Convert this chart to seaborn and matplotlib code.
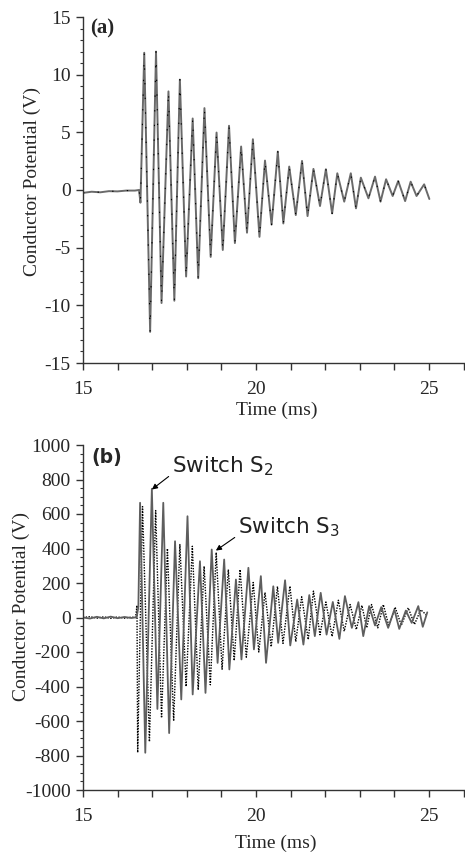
import numpy as np
import pandas as pd
import matplotlib
matplotlib.use("Agg")
import matplotlib.pyplot as plt
from matplotlib.ticker import MultipleLocator
import seaborn as sns

sns.set_theme(style="ticks")
plt.rcParams['font.family'] = ['Liberation Serif', 'DejaVu Serif']
plt.rcParams['mathtext.default'] = 'regular'
plt.rcParams['axes.unicode_minus'] = False

# ---------------- data: panel (a) ----------------
time_a = [15.0, 15.25, 15.5, 15.75, 16.0, 16.25, 16.5, 16.62, 16.66,
          16.77, 16.94, 17.11, 17.27, 17.47, 17.64, 17.80, 17.98, 18.17, 18.33,
          18.51, 18.69, 18.86, 19.04, 19.22, 19.39, 19.57, 19.74, 19.91, 20.10,
          20.26, 20.45, 20.63, 20.79, 20.96, 21.15, 21.33, 21.49, 21.66, 21.85,
          22.02, 22.20, 22.35, 22.55, 22.74, 22.89, 23.03, 23.25, 23.44, 23.60,
          23.76, 23.95, 24.11, 24.31, 24.47, 24.64, 24.86, 25.01]
volt_a = [-0.25, -0.15, -0.2, -0.1, -0.12, -0.05, -0.05, 0.0, -1.1,
          11.9, -12.3, 12.0, -9.8, 8.55, -9.6, 9.57, -7.5, 6.2, -7.65,
          7.1, -5.8, 4.98, -5.2, 5.57, -4.6, 3.77, -3.7, 4.4, -4.06,
          2.55, -3.0, 3.33, -2.9, 2.03, -2.17, 2.52, -2.26, 1.83, -1.39,
          1.8, -2.03, 1.45, -1.01, 1.45, -1.59, 1.07, -0.72, 1.16, -1.01,
          0.93, -0.52, 0.78, -0.96, 0.72, -0.52, 0.49, -0.78]

# ---------------- data: panel (b) ----------------
# Switch S2 (solid grey)
time_s2 = [15.0, 15.2, 15.4, 15.6, 15.8, 16.0, 16.2, 16.4, 16.55, 16.6,
           16.65, 16.80, 16.99, 17.15, 17.32, 17.49, 17.66, 17.84, 18.02, 18.17,
           18.38, 18.54, 18.72, 18.89, 19.08, 19.23, 19.42, 19.58, 19.78, 19.94,
           20.14, 20.29, 20.50, 20.64, 20.84, 20.99, 21.19, 21.37, 21.54, 21.70,
           21.87, 22.04, 22.22, 22.41, 22.57, 22.77, 22.96, 23.10, 23.27, 23.44,
           23.62, 23.82, 24.00, 24.14, 24.33, 24.50, 24.69, 24.82, 24.95]
volt_s2 = [0, -6, 4, -5, 5, -4, 3, -3, 2, 60,
           665, -784, 746, -530, 665, -670, 442, -475, 587, -446,
           326, -437, 394, -263, 336, -301, 220, -243, 288, -185,
           240, -263, 181, -147, 216, -162, 104, -157, 130, -108,
           143, -99, 90, -124, 124, -60, 89, -108, 66, -46,
           60, -60, 46, -66, 40, -31, 66, -54, 30]
# Switch S3 (dotted black)
time_s3 = [15.0, 15.2, 15.4, 15.6, 15.8, 16.0, 16.2, 16.4, 16.52, 16.56,
           16.58, 16.72, 16.92, 17.10, 17.27, 17.44, 17.62, 17.80, 17.98, 18.16,
           18.33, 18.50, 18.68, 18.85, 19.02, 19.20, 19.37, 19.54, 19.72, 19.92,
           20.08, 20.26, 20.44, 20.62, 20.78, 20.98, 21.15, 21.32, 21.51, 21.66,
           21.85, 22.02, 22.20, 22.38, 22.55, 22.72, 22.90, 23.06, 23.20, 23.34,
           23.52, 23.68, 23.84, 24.02, 24.20, 24.40, 24.58, 24.76, 24.95]
volt_s3 = [0, 5, -4, 4, -5, 3, -4, 2, 0, 70,
           -783, 643, -720, 620, -582, 400, -600, 423, -400, 413,
           -420, 297, -390, 377, -300, 278, -250, 278, -230, 203,
           -200, 145, -170, 180, -150, 182, -140, 120, -128, 153,
           -100, 90, -110, 100, -80, 75, -70, 70, -60, 75,
           -60, 75, -50, 60, -45, 56, -40, 45, 10]

xticks = [15, 20, 25]
yticks_a = [-15, -10, -5, 0, 5, 10, 15]
yticks_b = [-1000, -800, -600, -400, -200, 0, 200, 400, 600, 800, 1000]

df_a = pd.DataFrame({'t': time_a, 'v': volt_a})
df_s2 = pd.DataFrame({'t': time_s2, 'v': volt_s2})
df_s3 = pd.DataFrame({'t': time_s3, 'v': volt_s3})

W, H = 465, 855
fig = plt.figure(figsize=(W / 100, H / 100), dpi=100)
L = 83 / W
R = 463.6 / W
axA = fig.add_axes([L, 1 - 363 / H, R - L, (363 - 17) / H])
axB = fig.add_axes([L, 1 - 790 / H, R - L, (790 - 445) / H])

# panel (a)
sns.lineplot(data=df_a, x='t', y='v', ax=axA, color='#6a6a6a', lw=1.4,
             estimator=None, sort=False)
sns.lineplot(data=df_a, x='t', y='v', ax=axA, color='black', lw=0.8,
             estimator=None, sort=False, linestyle=(0, (1.2, 12)))

# panel (b)
sns.lineplot(data=df_s3, x='t', y='v', ax=axB, color='black', lw=1.0,
             estimator=None, sort=False, linestyle=(0, (1, 1)))
sns.lineplot(data=df_s2, x='t', y='v', ax=axB, color='#5e5e5e', lw=1.3,
             estimator=None, sort=False)

tick_fs = 14
for ax, yt, ymin in [(axA, yticks_a, 1), (axB, yticks_b, 50)]:
    ax.set_xlim(15, 26)
    ax.set_ylim(yt[0], yt[-1])
    ax.set_xticks(xticks)
    ax.xaxis.set_minor_locator(MultipleLocator(1))
    ax.set_yticks(yt)
    ax.yaxis.set_minor_locator(MultipleLocator(ymin))
    for s in ['top', 'right']:
        ax.spines[s].set_visible(False)
    for s in ['left', 'bottom']:
        ax.spines[s].set_color('#333333')
        ax.spines[s].set_linewidth(1.0)
    ax.tick_params(axis='both', which='major', direction='out', length=5,
                   width=1.0, color='#333333', labelsize=tick_fs)
    ax.tick_params(axis='x', which='major', pad=8)
    ax.tick_params(axis='y', which='major', pad=4)
    ax.tick_params(axis='x', which='minor', direction='out', length=5,
                   width=1.0, color='#333333')
    ax.tick_params(axis='y', which='minor', direction='out', length=2.5,
                   width=0.8, color='#333333')
    ax.set_xlabel('Time (ms)', fontsize=14)
    ax.set_ylabel('Conductor Potential (V)', fontsize=14)
    ax.patch.set_alpha(0)

axA.xaxis.set_label_coords(0.51, -0.136)
axB.xaxis.set_label_coords(0.507, -0.154)
axA.yaxis.set_label_coords(-0.134, 0.526)
axB.yaxis.set_label_coords(-0.163, 0.533)
for ax in (axA, axB):
    ax.xaxis.label.set_va('center')
    ax.yaxis.label.set_va('center')

axA.text(0.02, 0.997, '(a)', transform=axA.transAxes, fontsize=15,
         fontweight='bold', ha='left', va='top')
axB.text(0.022, 0.99, '(b)', transform=axB.transAxes, fontsize=13.5,
         family=['DejaVu Sans'], fontweight='bold', ha='left', va='top')

ann_font = dict(fontsize=15.5, family=['DejaVu Sans'], color='#222222')
axB.annotate('Switch S$_2$', xy=(16.99, 742), xytext=(17.57, 880),
             ha='left', va='center',
             arrowprops=dict(arrowstyle='-|>', lw=0.8, color='black',
                             shrinkA=0, shrinkB=0, mutation_scale=8,
                             relpos=(0, 0.15)), **ann_font)
axB.annotate('Switch S$_3$', xy=(18.84, 388), xytext=(19.48, 525),
             ha='left', va='center',
             arrowprops=dict(arrowstyle='-|>', lw=0.8, color='black',
                             shrinkA=0, shrinkB=0, mutation_scale=8,
                             relpos=(0, 0.15)), **ann_font)

fig.savefig('out.png', dpi=100)
